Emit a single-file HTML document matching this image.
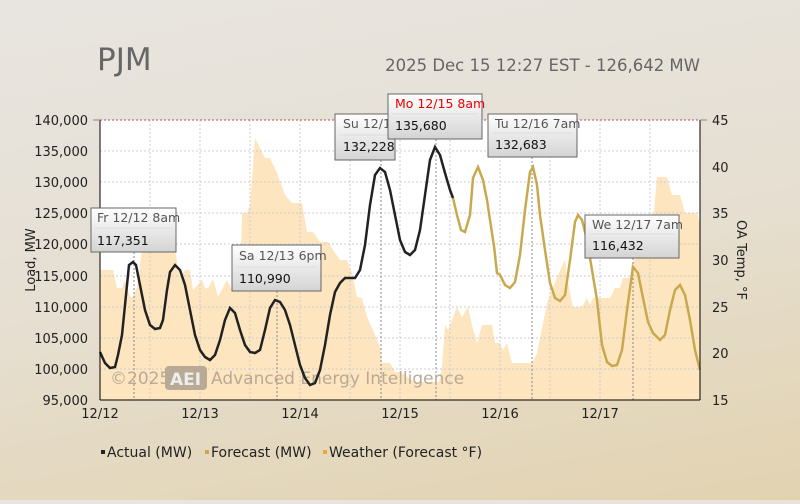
<!DOCTYPE html>
<html><head><style>
body{margin:0;width:800px;height:500px;overflow:hidden;background:linear-gradient(170deg,#e8e5e0 0%,#e6dfd2 50%,#e2d3b0 100%);font-family:"DejaVu Sans","Liberation Sans",sans-serif;}
</style></head><body>
<svg width="800" height="500" xmlns="http://www.w3.org/2000/svg" font-family="DejaVu Sans, Liberation Sans, sans-serif">
<defs><linearGradient id="tg" x1="0" y1="0" x2="0" y2="1"><stop offset="0" stop-color="#ffffff"/><stop offset="1" stop-color="#d4d4d4"/></linearGradient></defs>
<text x="97" y="70" font-size="31" fill="#666">PJM</text>
<text x="700" y="71" font-size="16.5" fill="#666" text-anchor="end">2025 Dec 15 12:27 EST - 126,642 MW</text>
<rect x="100" y="120" width="600" height="280" fill="#fff"/>
<polygon fill="#fde5c0" points="100,270 113,270 117,288 122,288 125,280 130,297 133,297 137,287 142,250 175,250 180,277 185,270 190,270 193,290 202,280 205,288 208,288 213,279 218,297 227,280 232,290 240,290 242,213 247,213 250,205 255,138 260,148 265,158 270,158 277,173 285,195 292,203 302,203 307,232 313,232 320,242 328,242 333,250 340,260 347,260 352,273 357,297 362,298 367,317 373,330 380,347 382,363 390,363 395,372 400,372 415,382 439,382 442,367 445,325 448,330 457,307 462,317 468,307 472,325 477,343 482,325 492,325 495,343 500,343 503,350 507,343 512,363 532,363 537,353 547,303 557,277 565,260 568,283 573,307 582,307 587,298 590,305 593,298 610,298 615,288 620,288 623,278 630,278 632,263 643,250 653,223 657,177 667,177 672,195 680,195 685,213 697,213 700,223 700,400 100,400"/>
<g stroke="#ccc" stroke-dasharray="2,2" stroke-width="1">
<line x1="100" y1="151" x2="700" y2="151"/><line x1="100" y1="182" x2="700" y2="182"/><line x1="100" y1="213" x2="700" y2="213"/><line x1="100" y1="244" x2="700" y2="244"/><line x1="100" y1="276" x2="700" y2="276"/><line x1="100" y1="307" x2="700" y2="307"/><line x1="100" y1="338" x2="700" y2="338"/><line x1="100" y1="369" x2="700" y2="369"/>
<line x1="150" y1="120" x2="150" y2="400"/><line x1="200" y1="120" x2="200" y2="400"/><line x1="250" y1="120" x2="250" y2="400"/><line x1="300" y1="120" x2="300" y2="400"/><line x1="350" y1="120" x2="350" y2="400"/><line x1="400" y1="120" x2="400" y2="400"/><line x1="450" y1="120" x2="450" y2="400"/><line x1="500" y1="120" x2="500" y2="400"/><line x1="550" y1="120" x2="550" y2="400"/><line x1="600" y1="120" x2="600" y2="400"/><line x1="650" y1="120" x2="650" y2="400"/>
</g>
<g stroke="#888" stroke-dasharray="2,2"><line x1="134" y1="252" x2="134" y2="400"/><line x1="277" y1="291" x2="277" y2="400"/><line x1="381" y1="160" x2="381" y2="400"/><line x1="436" y1="139" x2="436" y2="400"/><line x1="532" y1="157" x2="532" y2="400"/><line x1="633" y1="258" x2="633" y2="400"/></g>
<line x1="100" y1="120" x2="700" y2="120" stroke="#b05050" stroke-dasharray="2,2"/>
<g font-size="17" fill="#b9aa95"><text x="110" y="384">©2025</text><rect x="165" y="366" width="42" height="24" rx="4" fill="#b9aa95"/><text x="170" y="385" fill="#eee" font-weight="bold">AEI</text><text x="211" y="384">Advanced Energy Intelligence</text></g>
<polyline fill="none" stroke="#c9a94e" stroke-width="2.5" points="453,198 457,215 461,230 465,232 470,215 473,178 478,167 483,180 487,200 490,220 494,246 497,273 500,275 505,285 510,288 515,282 520,255 525,210 530,172 533,167 537,185 540,215 545,250 550,283 555,298 560,301 565,295 570,260 575,222 578,215 582,220 587,240 592,270 597,300 602,345 607,362 612,366 617,365 622,350 627,310 633,267 638,273 643,298 648,322 653,333 660,340 665,335 670,310 675,290 680,285 685,295 690,320 695,350 700,370"/>
<polyline fill="none" stroke="#222" stroke-width="2.5" points="100,352 105,363 110,368 115,367 118,355 122,335 126,295 129,265 133,262 136,265 140,285 145,310 150,325 155,329 160,328 163,320 167,290 170,272 175,265 180,270 185,285 190,310 195,335 200,350 205,357 210,360 215,355 220,340 225,320 230,308 235,313 240,330 245,345 250,352 255,353 260,350 265,330 270,308 275,300 280,302 285,310 290,325 295,345 300,365 305,378 310,385 315,383 320,370 325,345 330,315 335,292 340,283 345,278 355,278 360,270 365,245 370,205 375,175 380,168 385,172 390,190 395,215 400,240 405,252 410,255 415,250 420,230 425,195 430,160 435,147 440,155 445,173 450,190 453,198"/>
<g stroke="#000"><line x1="100" y1="120" x2="100" y2="400"/><line x1="700" y1="120" x2="700" y2="400"/><line x1="100" y1="400" x2="700" y2="400"/></g>
<g font-size="13" fill="#222" text-anchor="end">
<text x="88" y="125">140,000</text><text x="88" y="156">135,000</text><text x="88" y="187">130,000</text><text x="88" y="218">125,000</text><text x="88" y="249">120,000</text><text x="88" y="281">115,000</text><text x="88" y="312">110,000</text><text x="88" y="343">105,000</text><text x="88" y="374">100,000</text><text x="88" y="405">95,000</text>
</g>
<g font-size="13" fill="#222"><text x="712" y="125">45</text><text x="712" y="172">40</text><text x="712" y="218">35</text><text x="712" y="265">30</text><text x="712" y="312">25</text><text x="712" y="358">20</text><text x="712" y="405">15</text></g>
<g stroke="#888"><line x1="93" y1="120" x2="100" y2="120"/><line x1="700" y1="120" x2="707" y2="120"/></g>
<g font-size="13" fill="#222" text-anchor="middle"><text x="100" y="418">12/12</text><text x="200" y="418">12/13</text><text x="300" y="418">12/14</text><text x="400" y="418">12/15</text><text x="500" y="418">12/16</text><text x="600" y="418">12/17</text></g>
<text transform="translate(35,260) rotate(-90)" font-size="13" fill="#222" text-anchor="middle">Load, MW</text>
<text transform="translate(737,260) rotate(90)" font-size="13" fill="#222" text-anchor="middle">OA Temp, °F</text>
<g font-size="14" fill="#222"><rect x="101" y="450" width="4" height="4" fill="#222"/><text x="107" y="457">Actual (MW)</text><rect x="205" y="450" width="4" height="4" fill="#c9a94e"/><text x="211" y="457">Forecast (MW)</text><rect x="323" y="450" width="4" height="4" fill="#f0a830"/><text x="329" y="457">Weather (Forecast °F)</text></g>
<g font-size="12.5">
<g><rect x="91" y="208" width="85" height="44" fill="url(#tg)" stroke="#666"/><line x1="95" y1="228" x2="172" y2="228" stroke="#ddd"/><text x="97" y="222" fill="#555">Fr 12/12 8am</text><text x="97" y="245" fill="#111">117,351</text></g>
<g><rect x="232" y="245" width="89" height="46" fill="url(#tg)" stroke="#666"/><line x1="236" y1="267" x2="317" y2="267" stroke="#ddd"/><text x="239" y="260" fill="#555">Sa 12/13 6pm</text><text x="239" y="283" fill="#111">110,990</text></g>
<g><rect x="335" y="114" width="60" height="46" fill="url(#tg)" stroke="#666"/><line x1="339" y1="135" x2="391" y2="135" stroke="#ddd"/><text x="343" y="128" fill="#555">Su 12/14</text><text x="343" y="151" fill="#111">132,228</text></g>
<g><rect x="388" y="94" width="94" height="45" fill="url(#tg)" stroke="#666"/><line x1="392" y1="114" x2="478" y2="114" stroke="#ddd"/><text x="395" y="108" fill="#e00">Mo 12/15 8am</text><text x="395" y="130" fill="#111">135,680</text></g>
<g><rect x="488" y="114" width="89" height="43" fill="url(#tg)" stroke="#666"/><line x1="492" y1="133" x2="573" y2="133" stroke="#ddd"/><text x="495" y="128" fill="#555">Tu 12/16 7am</text><text x="495" y="149" fill="#111">132,683</text></g>
<g><rect x="585" y="215" width="94" height="43" fill="url(#tg)" stroke="#666"/><line x1="589" y1="234" x2="675" y2="234" stroke="#ddd"/><text x="592" y="229" fill="#555">We 12/17 7am</text><text x="592" y="250" fill="#111">116,432</text></g>
</g>
</svg>
</body></html>
